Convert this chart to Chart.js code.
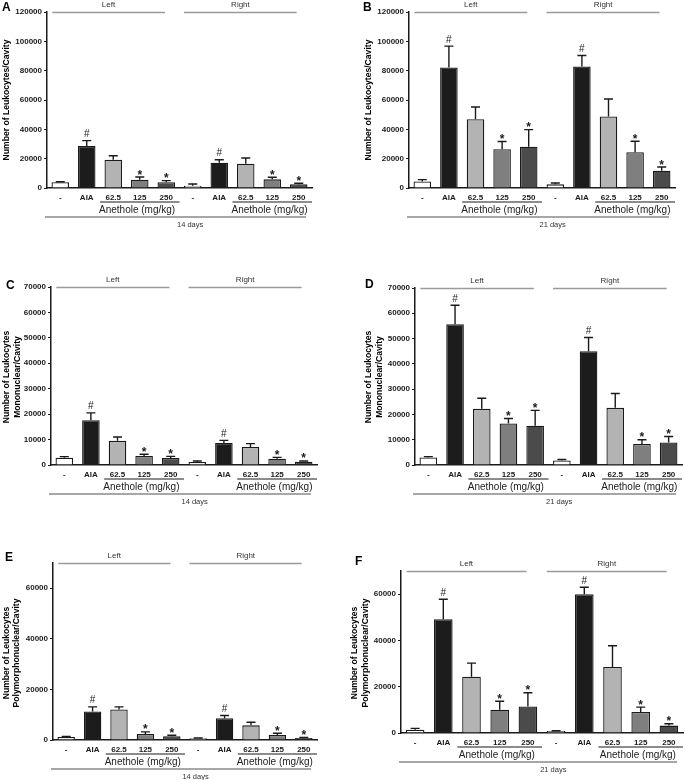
<!DOCTYPE html>
<html>
<head>
<meta charset="utf-8">
<script src="https://cdn.jsdelivr.net/npm/chart.js@4.4.0/dist/chart.umd.min.js"></script>
<style>
html,body{margin:0;padding:0;background:#fff;overflow:hidden;width:685px;height:780px;}
canvas{position:absolute;}
</style>
</head>
<body>
<canvas id="cA" style="left:0px;top:0px;width:340px;height:250px" width="340" height="250"></canvas>
<canvas id="cB" style="left:340px;top:0px;width:345px;height:250px" width="345" height="250"></canvas>
<canvas id="cC" style="left:0px;top:250px;width:340px;height:260px" width="340" height="260"></canvas>
<canvas id="cD" style="left:340px;top:250px;width:345px;height:260px" width="345" height="260"></canvas>
<canvas id="cE" style="left:0px;top:510px;width:340px;height:270px" width="340" height="270"></canvas>
<canvas id="cF" style="left:340px;top:510px;width:345px;height:270px" width="345" height="270"></canvas>
<script>
// ---- data ----
const categories = ['-', 'AIA', '62.5', '125', '250', '-', 'AIA', '62.5', '125', '250'];
const markers = ['', '#', '', '*', '*', '', '#', '', '*', '*'];
const sideLabels = ['Left', 'Right'];
const doseLabel = 'Anethole (mg/kg)';

const aMean = [4000, 28600, 19300, 5700, 3900, 1600, 17300, 16600, 5900, 2500];
const aSem  = [300, 3700, 2700, 1800, 1100, 1100, 2000, 3900, 1400, 700];
const bMean = [4500, 82200, 46900, 26500, 28100, 2500, 82900, 48700, 24400, 11800];
const bSem  = [1200, 14500, 8300, 5200, 11700, 900, 7400, 12000, 7500, 2500];
const cMean = [2900, 17600, 9500, 3550, 2750, 1200, 8700, 7100, 2500, 1300];
const cSem  = [400, 2900, 1500, 650, 650, 400, 1000, 1300, 500, 300];
const dMean = [3000, 55700, 22200, 16400, 15500, 1800, 45000, 22600, 8300, 8900];
const dSem  = [300, 7500, 4200, 2000, 6100, 400, 5400, 5700, 1700, 2400];
const eMean = [1200, 11300, 12100, 2400, 1450, 700, 8600, 5800, 2000, 800];
const eSem  = [250, 1800, 1000, 800, 400, 100, 1100, 1200, 650, 250];
const fMean = [1440, 49200, 24300, 10100, 11500, 860, 60000, 28500, 9100, 3200];
const fSem  = [560, 8600, 5900, 3600, 5900, 140, 3000, 9200, 2100, 800];

const ticksTotal = [0, 20000, 40000, 60000, 80000, 100000, 120000];
const ticksMono = [0, 10000, 20000, 30000, 40000, 50000, 60000, 70000];
const ticksPoly = [0, 20000, 40000, 60000];

const yTitleTotal = ['Number of Leukocytes/Cavity'];
const yTitleMono = ['Number of Leukocytes', 'Mononuclear/Cavity'];
const yTitlePoly = ['Number of Leukocytes', 'Polymorphonuclear/Cavity'];

// ---- styles ----
const barColors = ['#ffffff', '#1c1c1c', '#b3b3b3', '#7f7f7f', '#4b4b4b', '#ffffff', '#1c1c1c', '#b3b3b3', '#7f7f7f', '#4b4b4b'];
const FONT = "'Liberation Sans', Arial, sans-serif";

const panels = [
  {id:'cA', letter:'A', mean:aMean, sem:aSem, max:120000, ticks:ticksTotal, title:yTitleTotal, days:'14 days',
   area:{l:47, r:312, t:12, b:188}, letterPos:[2,13], titleX:[7], titleY:100},
  {id:'cB', letter:'B', mean:bMean, sem:bSem, max:120000, ticks:ticksTotal, title:yTitleTotal, days:'21 days',
   area:{l:69, r:335, t:12, b:188}, letterPos:[23,13], titleX:[29], titleY:100},
  {id:'cC', letter:'C', mean:cMean, sem:cSem, max:70000, ticks:ticksMono, title:yTitleMono, days:'14 days',
   area:{l:51, r:317, t:37, b:215}, letterPos:[6,41], titleX:[7,18], titleY:127},
  {id:'cD', letter:'D', mean:dMean, sem:dSem, max:70000, ticks:ticksMono, title:yTitleMono, days:'21 days',
   area:{l:75, r:342, t:38, b:215}, letterPos:[25,40], titleX:[29,40], titleY:127},
  {id:'cE', letter:'E', mean:eMean, sem:eSem, max:70000, ticks:ticksPoly, title:yTitlePoly, days:'14 days',
   area:{l:53, r:317, t:53, b:230}, letterPos:[5,53], titleX:[7,17], titleY:143},
  {id:'cF', letter:'F', mean:fMean, sem:fSem, max:70000, ticks:ticksPoly, title:yTitlePoly, days:'21 days',
   area:{l:61, r:343, t:61, b:223}, letterPos:[15,57], titleX:[15,26], titleY:143},
];

function makeDecor(p) {
  return {
    id: 'decor',
    afterDatasetsDraw(chart) {
      const ctx = chart.ctx;
      const xs = chart.scales.x, ys = chart.scales.y;
      const ca = chart.chartArea;
      const cw = (ca.right - ca.left) / categories.length;
      const ux = u => ca.left + u * cw;
      ctx.save();
      // error bars + markers
      ctx.strokeStyle = '#1a1a1a';
      ctx.lineWidth = 1.4;
      ctx.fillStyle = '#1a1a1a';
      p.mean.forEach((m, i) => {
        const x = xs.getPixelForValue(i);
        const y0 = ys.getPixelForValue(m);
        const y1 = ys.getPixelForValue(m + p.sem[i]);
        ctx.beginPath();
        ctx.moveTo(x, y0); ctx.lineTo(x, y1);
        ctx.moveTo(x - 4.5, y1); ctx.lineTo(x + 4.5, y1);
        ctx.stroke();
        if (markers[i]) {
          ctx.textAlign = 'center';
          ctx.textBaseline = 'alphabetic';
          if (markers[i] === '#') {
            ctx.font = '10px ' + FONT;
            ctx.fillText('#', x, y1 - 3.5);
          } else {
            ctx.font = 'bold 12px ' + FONT;
            ctx.fillText('*', x, y1 + 1.5);
          }
        }
      });
      const b = ca.bottom;
      // dose underlines
      ctx.strokeStyle = '#1a1a1a';
      ctx.lineWidth = 1.2;
      ctx.beginPath();
      ctx.moveTo(ux(2), b + 14); ctx.lineTo(ux(5), b + 14);
      ctx.moveTo(ux(7), b + 14); ctx.lineTo(ux(10), b + 14);
      ctx.stroke();
      ctx.fillStyle = '#222';
      ctx.font = '10px ' + FONT;
      ctx.textAlign = 'center';
      ctx.textBaseline = 'middle';
      ctx.fillText(doseLabel, ux(3.4), b + 22);
      ctx.fillText(doseLabel, ux(8.4), b + 22);
      // days line
      ctx.strokeStyle = '#8a8a8a';
      ctx.lineWidth = 1.3;
      ctx.beginPath();
      ctx.moveTo(ca.left - 2, b + 29); ctx.lineTo(ca.right - 6, b + 29);
      ctx.stroke();
      ctx.fillStyle = '#333';
      ctx.font = '7.5px ' + FONT;
      ctx.fillText(p.days, ux(5.4), b + 37);
      // Left / Right top lines
      const t = ca.top;
      ctx.strokeStyle = '#9a9a9a';
      ctx.beginPath();
      ctx.moveTo(ux(0.2), t + 0.5); ctx.lineTo(ux(4.45), t + 0.5);
      ctx.moveTo(ux(5.17), t + 0.5); ctx.lineTo(ux(9.42), t + 0.5);
      ctx.stroke();
      ctx.fillStyle = '#333';
      ctx.font = '8px ' + FONT;
      ctx.fillText(sideLabels[0], ux(2.32), t - 7);
      ctx.fillText(sideLabels[1], ux(7.3), t - 7);
      // panel letter
      ctx.fillStyle = '#000';
      ctx.font = 'bold 12px ' + FONT;
      ctx.textAlign = 'left';
      ctx.textBaseline = 'bottom';
      ctx.fillText(p.letter, p.letterPos[0], p.letterPos[1] + 1);
      // y title
      ctx.font = 'bold 8.6px ' + FONT;
      ctx.textAlign = 'center';
      ctx.textBaseline = 'middle';
      p.title.forEach((line, k) => {
        ctx.save();
        ctx.translate(p.titleX[k], p.titleY);
        ctx.rotate(-Math.PI / 2);
        ctx.fillText(line, 0, 0);
        ctx.restore();
      });
      ctx.restore();
    }
  };
}

panels.forEach(p => {
  const cv = document.getElementById(p.id);
  const W = cv.width, H = cv.height;
  new Chart(cv, {
    type: 'bar',
    data: {
      labels: categories,
      datasets: [{
        data: p.mean,
        backgroundColor: barColors,
        borderColor: '#1a1a1a',
        borderWidth: 1.3,
        borderSkipped: 'bottom',
        barPercentage: 0.66,
        categoryPercentage: 1.0
      }]
    },
    options: {
      responsive: false,
      animation: false,
      devicePixelRatio: 1,
      layout: { padding: { left: 0, right: W - p.area.r, top: p.area.t, bottom: 0 } },
      plugins: { legend: { display: false }, tooltip: { enabled: false } },
      scales: {
        x: {
          type: 'category',
          offset: true,
          grid: { display: false, drawTicks: false },
          border: { display: true, color: '#1a1a1a', width: 1.5 },
          ticks: { color: '#1a1a1a', font: { family: FONT, size: 8, weight: 'bold' }, padding: 5, maxRotation: 0, autoSkip: false },
          afterFit: s => { s.height = H - p.area.b; }
        },
        y: {
          min: 0, max: p.max,
          grid: { display: true, drawOnChartArea: false, drawTicks: true, tickLength: 3, color: '#1a1a1a', lineWidth: 1 },
          border: { display: true, color: '#1a1a1a', width: 1.5 },
          ticks: { color: '#1a1a1a', padding: 2, font: { family: FONT, size: 8, weight: 'bold' },
                   callback: v => String(v) },
          afterBuildTicks: s => { s.ticks = p.ticks.map(v => ({ value: v })); },
          afterFit: s => { s.width = p.area.l; }
        }
      }
    },
    plugins: [makeDecor(p)]
  });
});
</script>
</body>
</html>
